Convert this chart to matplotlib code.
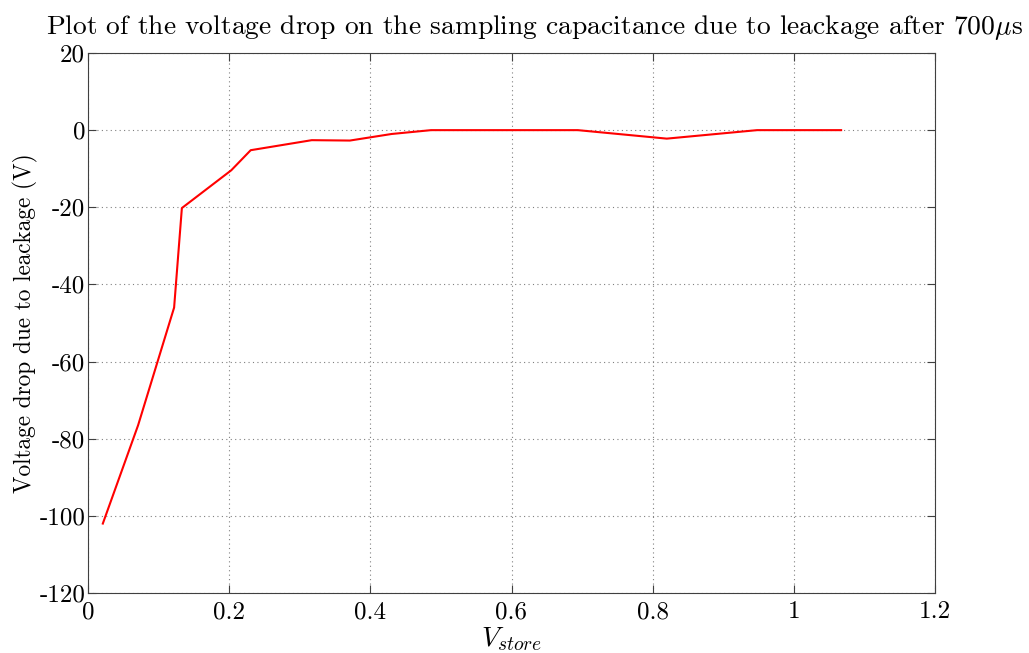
import matplotlib
matplotlib.use('Agg')
import matplotlib.pyplot as plt

# datos
v_store = [0.021, 0.071, 0.122, 0.133, 0.203, 0.2305, 0.317, 0.371, 0.43, 0.486,
           0.694, 0.82, 0.948, 1.067]
v_drop = [-102.0, -76.5, -46.0, -20.2, -10.4, -5.2, -2.6, -2.7, -1.0, 0.0,
          0.0, -2.2, 0.0, 0.0]

x_ticks = [0, 0.2, 0.4, 0.6, 0.8, 1, 1.2]
x_labels = ["0", "0.2", "0.4", "0.6", "0.8", "1", "1.2"]
y_ticks = [-120, -100, -80, -60, -40, -20, 0, 20]

plt.rcParams['font.family'] = 'cmr10'
plt.rcParams['mathtext.fontset'] = 'cm'
plt.rcParams['axes.unicode_minus'] = False
plt.rcParams['axes.formatter.use_mathtext'] = False

fig = plt.figure(figsize=(10.29, 6.53), dpi=100)
ax = fig.add_axes([88 / 1029, 60 / 653, 847 / 1029, 540 / 653])

ax.plot(v_store, v_drop, color='red', linewidth=1.5)

ax.set_xlim(0, 1.2)
ax.set_ylim(-120, 20)
ax.set_xticks(x_ticks)
ax.set_xticklabels(x_labels)
ax.set_yticks(y_ticks)
ax.set_yticklabels([str(v) for v in y_ticks])

ax.grid(True, linestyle=(0, (1, 3)), color='#808080', linewidth=0.8)
ax.tick_params(direction='in', top=True, right=True, length=6, width=0.8,
               colors='#404040', labelcolor='black', labelsize=18, pad=2)
ax.tick_params(axis='x', pad=6)
for sp in ax.spines.values():
    sp.set_color('#404040')
    sp.set_linewidth(0.8)

# titulo un poco a la derecha, como en la original
fig.text(534 / 1029, 1 - 27 / 653,
         r"Plot of the voltage drop on the sampling capacitance due to leackage after 700$\mu$s",
         fontsize=19.8, ha='center', va='center')
ax.set_xlabel(r"$V_{store}$", fontsize=20, labelpad=1)
ax.set_ylabel("Voltage drop due to leackage (V)", fontsize=16.8, labelpad=1)

fig.savefig("out.png", dpi=100)
